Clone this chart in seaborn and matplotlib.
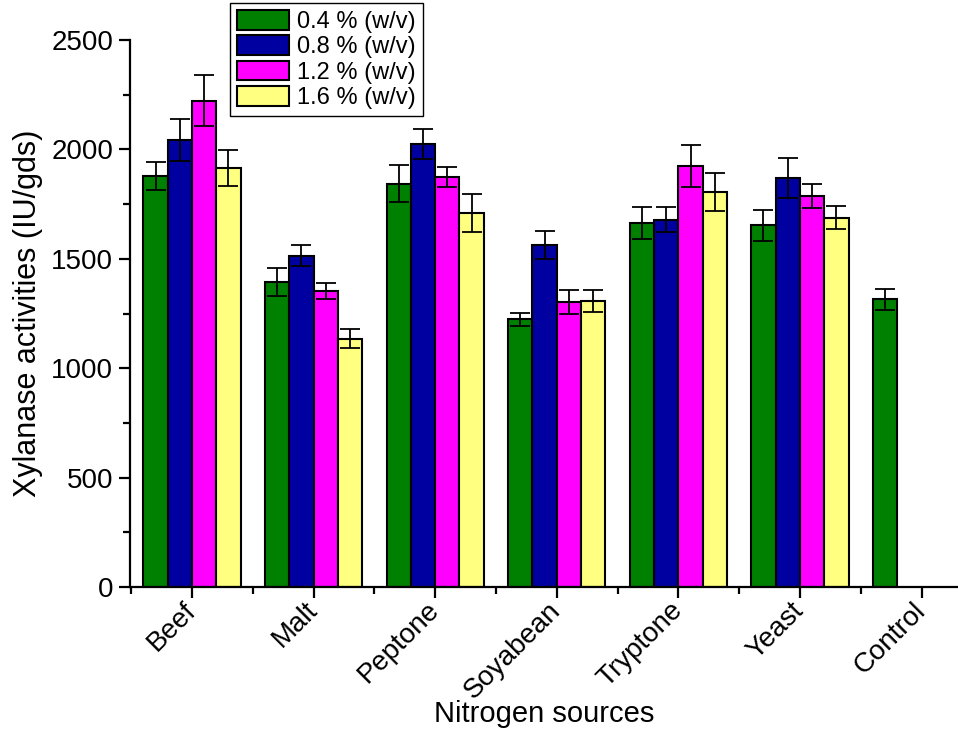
import numpy as np
import pandas as pd
import matplotlib
matplotlib.use("Agg")
import matplotlib.pyplot as plt
import seaborn as sns
from matplotlib.ticker import MultipleLocator, FixedLocator

# Nitrogen sources and concentration levels
sources = ["Beef", "Malt", "Peptone", "Soyabean", "Tryptone", "Yeast", "Control"]
levels = ["0.4 % (w/v)", "0.8 % (w/v)", "1.2 % (w/v)", "1.6 % (w/v)"]

# Xylanase activity (IU/gds) per concentration; control has a single value
act_04 = [1878, 1394, 1843, 1223, 1665, 1653, 1315]
act_08 = [2044, 1514, 2025, 1565, 1679, 1868, np.nan]
act_12 = [2223, 1351, 1875, 1304, 1923, 1787, np.nan]
act_16 = [1915, 1135, 1709, 1308, 1804, 1688, np.nan]

# Standard deviations
sd_04 = [65, 66, 84, 28, 73, 72, 47]
sd_08 = [95, 48, 70, 64, 58, 92, np.nan]
sd_12 = [115, 37, 46, 54, 96, 57, np.nan]
sd_16 = [84, 44, 85, 50, 86, 53, np.nan]

colors = ["#008000", "#0000A0", "#FF00FF", "#FFFF80"]

acts = [act_04, act_08, act_12, act_16]
sds = [sd_04, sd_08, sd_12, sd_16]
rows = []
for lev, a, s in zip(levels, acts, sds):
    for src, v, e in zip(sources, a, s):
        if not np.isnan(v):
            rows.append({"source": src, "level": lev, "activity": v, "sd": e})
df = pd.DataFrame(rows)

sns.set_style("ticks")
plt.rcParams["font.family"] = ["Liberation Sans", "DejaVu Sans"]
plt.rcParams["text.color"] = "black"
plt.rcParams["axes.labelcolor"] = "black"

fig = plt.figure(figsize=(9.58, 7.29), dpi=100)
ax = fig.add_axes([130 / 958, 1 - 587 / 729, 1 - 130 / 958, (587 - 40) / 729])

sns.barplot(data=df, x="source", y="activity", hue="level", order=sources,
            hue_order=levels, palette=colors, width=0.8, errorbar=None,
            edgecolor="black", linewidth=1.5, saturation=1, ax=ax)

# error bars placed on each bar centre
for lev, cont in zip(levels, ax.containers):
    sub = df[df["level"] == lev].set_index("source")
    for patch in cont.patches:
        xc = patch.get_x() + patch.get_width() / 2
        src = sources[int(round(xc))]
        if src not in sub.index:
            continue
        h = patch.get_height()
        ax.errorbar(xc, h, yerr=sub.loc[src, "sd"], fmt="none", ecolor="black",
                    elinewidth=1.3, capsize=7, capthick=1.3)

ax.set_ylim(0, 2500)
ax.set_xlim(-0.51, 6.3)
ax.yaxis.set_major_locator(MultipleLocator(500))
ax.yaxis.set_minor_locator(MultipleLocator(250))
ax.xaxis.set_minor_locator(FixedLocator(np.arange(-0.5, 6.6, 1.0)))

sns.despine(ax=ax)
for sp in ["left", "bottom"]:
    ax.spines[sp].set_linewidth(1.6)
    ax.spines[sp].set_color("black")
ax.tick_params(axis="both", which="major", direction="out", length=8, width=1.6,
               labelsize=20, colors="black")
ax.tick_params(axis="y", which="major", pad=4)
ax.tick_params(axis="x", which="major", pad=6)
ax.tick_params(axis="both", which="minor", direction="out", length=5, width=1.6,
               colors="black")

ax.set_xticks(range(len(sources)))
ax.set_xticklabels(sources, rotation=45, ha="right", va="center",
                   rotation_mode="anchor")
ax.set_xlabel("Nitrogen sources", fontsize=21, va="center")
ax.xaxis.set_label_coords(0.5, -0.232)
ax.set_ylabel("Xylanase activities (IU/gds)", fontsize=22, labelpad=6)

leg = ax.legend(loc="upper left", bbox_to_anchor=(230 / 958, 1 - 3 / 729),
                bbox_transform=fig.transFigure, fontsize=17, frameon=True,
                fancybox=False, edgecolor="black", framealpha=1,
                handlelength=2.2, handleheight=0.9, labelspacing=0.1,
                borderpad=0.3, handletextpad=0.35, borderaxespad=0)
leg.get_frame().set_linewidth(1.0)
for h in leg.legend_handles:
    h.set_edgecolor("black")
    h.set_linewidth(1.5)
for t in leg.get_texts():
    t.set_color("black")

fig.savefig("out.png", dpi=100)
